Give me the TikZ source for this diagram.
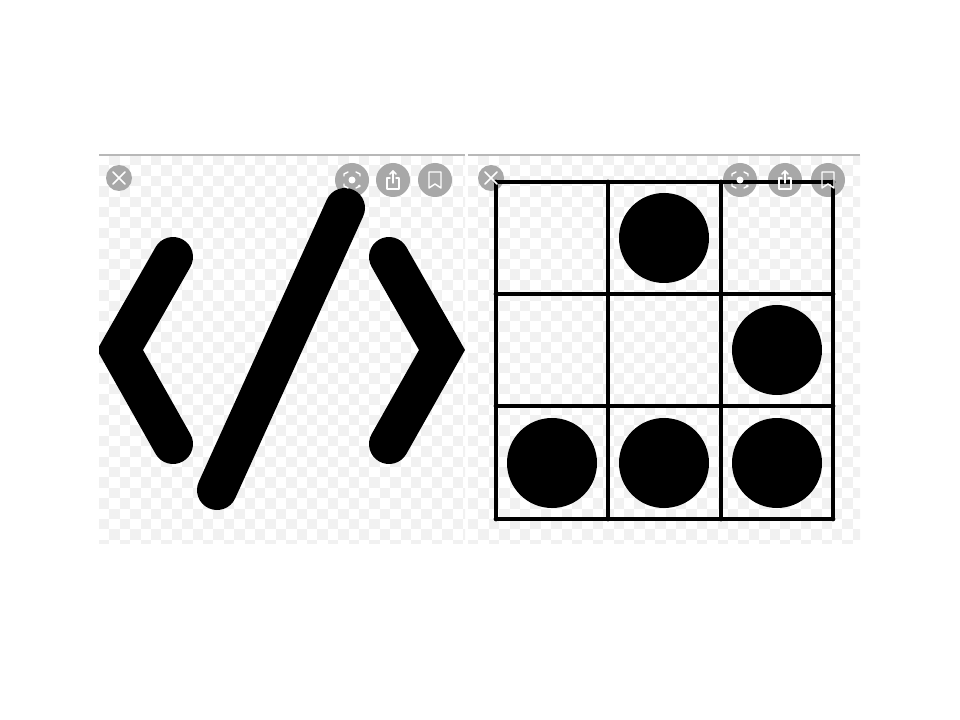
\documentclass[tikz,border=0pt]{standalone}
\usepackage{xcolor}
\usepackage{tikz}
\definecolor{cellgray}{rgb}{0.945,0.945,0.945}
\definecolor{icongray}{rgb}{0.66,0.66,0.66}
\definecolor{rulegray}{rgb}{0.72,0.72,0.72}
\tikzset{
    bar/.style={line width=30pt,line cap=round,line join=miter,color=black},
    gridline/.style={line width=3.6pt,line cap=round,color=black},
    glyph/.style={line width=1.1pt,color=white,line cap=round,line join=round},
    disc/.style={fill=black,draw=none}
}
\begin{document}
\begin{tikzpicture}[x=0.75pt,y=-0.75pt]
    \useasboundingbox (0,0) rectangle (960,720);
    \fill[white] (0,0) rectangle (960,720);

    % checker of the left image
    \begin{scope}
        \clip (99,155) rectangle (465,543);
        \foreach \i in {0,...,35} {
            \foreach \j in {0,...,37} {
                \pgfmathparse{int(mod(\i+\j,2))}
                \ifnum\pgfmathresult=1
                    \fill[cellgray] ({99+10.4*\i},{155+10.4*\j}) rectangle +(10.4,10.4);
                \fi
            }
        }
    \end{scope}

    % checker of the right image
    \begin{scope}
        \clip (468,155) rectangle (860,543);
        \foreach \i in {0,...,38} {
            \foreach \j in {0,...,37} {
                \pgfmathparse{int(mod(\i+\j,2))}
                \ifnum\pgfmathresult=1
                    \fill[cellgray] ({468+10.4*\i},{155+10.4*\j}) rectangle +(10.4,10.4);
                \fi
            }
        }
    \end{scope}

    \draw[line width=0.9pt,color=rulegray] (99,155)-- (465,155);
    \draw[line width=0.9pt,color=rulegray] (468,155)-- (860,155);

    % icon backgrounds
    \foreach \cx/\cy/\r in {119/178/13,352/180/17,393/180/17,435/180/17,491/178/13,740/180/17,785/180/17,828/180/17}
        \fill[icongray] (\cx,\cy) circle (\r);

    % code sign
    \begin{scope}
        \clip (99,155) rectangle (465,543);
        \draw[bar] (173,257)-- (120,350)-- (173,444);
        \draw[bar] (389,257)-- (442,350)-- (389,444);
        \draw[bar] (345,208)-- (217,490);
    \end{scope}

    % glider
    \draw[gridline] (496,182)-- (833,182);
    \draw[gridline] (496,294)-- (833,294);
    \draw[gridline] (496,406)-- (833,406);
    \draw[gridline] (496,519)-- (833,519);
    \draw[gridline] (496,182)-- (496,519);
    \draw[gridline] (608,182)-- (608,519);
    \draw[gridline] (721,182)-- (721,519);
    \draw[gridline] (833,182)-- (833,519);
    \foreach \cx/\cy in {664/238,777/350,552/463,664/463,777/463}
        \fill[disc] (\cx,\cy) circle (45);

    % icon glyphs
    \foreach \cx in {119,491} {
        \draw[glyph] (\cx-6,172)-- (\cx+6,184);
        \draw[glyph] (\cx-6,184)-- (\cx+6,172);
    }
    \foreach \cx in {352,740} {
        \draw[glyph] (\cx-8,176)-- (\cx-8,174)-- (\cx-4,172);
        \draw[glyph] (\cx+4,172)-- (\cx+8,174)-- (\cx+8,176);
        \draw[glyph] (\cx-8,184)-- (\cx-8,186)-- (\cx-4,188);
        \draw[glyph] (\cx+4,188)-- (\cx+8,186);
        \fill[white] (\cx,180) circle (3.5);
        \fill[white] (\cx+7,186) circle (1.5);
    }
    \foreach \cx in {393,785} {
        \draw[glyph] (\cx-3,178)-- (\cx-6,178)-- (\cx-6,189)-- (\cx+6,189)-- (\cx+6,178)-- (\cx+3,178);
        \draw[glyph] (\cx,183)-- (\cx,171);
        \draw[glyph] (\cx-3,174)-- (\cx,171)-- (\cx+3,174);
    }
    \foreach \cx in {435,828} {
        \draw[glyph] (\cx-6,172)-- (\cx+6,172)-- (\cx+6,188)-- (\cx,184)-- (\cx-6,188)-- cycle;
    }
\end{tikzpicture}
\end{document}
